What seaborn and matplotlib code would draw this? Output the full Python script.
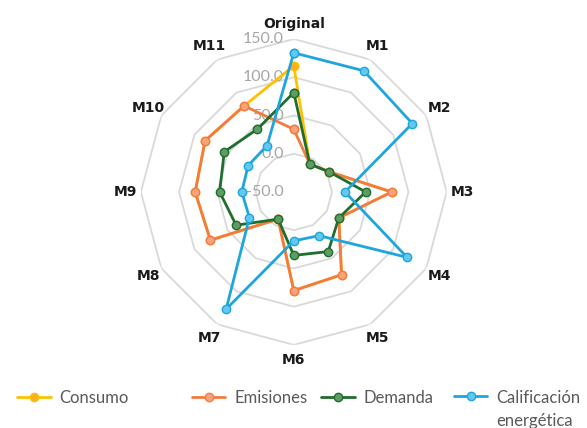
import numpy as np
import pandas as pd
import matplotlib.pyplot as plt
import seaborn as sns

# axes of the radar
categories = ['Original', 'M1', 'M2', 'M3', 'M4', 'M5', 'M6', 'M7', 'M8', 'M9', 'M10', 'M11']

# values
consumo = [115, -8, 3, 78, 18, 75, 79, -9, 76, 79, 84, 80]
emisiones = [32, -8, 3, 78, 18, 75, 79, -9, 76, 79, 84, 80]
demanda = [80, -8, 3, 44, 18, 40, 33, -9, 37, 47, 55, 45]
calificacion = [132, 133, 129, 17, 121, 16, 14, 127, 17, 18, 19, 20]

series_names = ['Consumo', 'Emisiones', 'Demanda', 'Calificación\nenergética']
series_values = [consumo, emisiones, demanda, calificacion]
line_colors = ['#FFC000', '#F47A3E', '#1E6E2E', '#1CA6DD']
face_colors = ['#FFB020', '#F9A37C', '#5E9C63', '#62C8F0']

rings = [-50, 0, 50, 100, 150]
ring_labels = ['-50.0', '0.0', '50.0', '100.0', '150.0']

sns.set_theme(style='white')
plt.rcParams['font.family'] = ['DejaVu Sans']

fig = plt.figure(figsize=(5.87, 4.28), dpi=100)
ax = fig.add_axes([0.240, 0.194, 0.521, 0.715], projection='polar')
ax.set_theta_zero_location('N')
ax.set_theta_direction(-1)

n = len(categories)
theta = np.linspace(0, 2 * np.pi, n, endpoint=False)
theta_closed = np.append(theta, 2 * np.pi)

# polygon gridlines
for r in rings[1:]:
    ax.plot(theta_closed, [r] * (n + 1), color='#D9D9D9', lw=1.3, zorder=0)

for name, vals, lc, fc in zip(series_names, series_values, line_colors, face_colors):
    df = pd.DataFrame({'theta': theta_closed, 'value': vals + [vals[0]]})
    sns.lineplot(data=df, x='theta', y='value', ax=ax, sort=False, estimator=None,
                 color=lc, lw=2.0, marker='o', markersize=6,
                 markerfacecolor=fc, markeredgecolor=lc, markeredgewidth=1.0,
                 label=name, legend=False, zorder=3)

ax.set_ylim(-50, 150)
ax.set_xticks([])
ax.set_yticks([])
ax.grid(False)
ax.spines['polar'].set_visible(False)
ax.set_xlabel('')
ax.set_ylabel('')

for r, lab in zip(rings, ring_labels):
    ax.annotate(lab, xy=(0, r), xytext=(-7, 0), textcoords='offset points',
                ha='right', va='center', fontsize=11.5, color='#A6A6A6',
                family='Lato', zorder=2)

for t, cat in zip(theta, categories):
    ax.text(t, 170, cat, ha='center', va='center', fontsize=10,
            fontweight='bold', color='#1A1A1A')

handles = ax.get_lines()[-4:]
legend_x = [0.018, 0.316, 0.536, 0.762]
for h, name, x in zip(handles, series_names, legend_x):
    leg = fig.legend([h], [name], loc='upper left', bbox_to_anchor=(x, 0.104),
                     frameon=False, handlelength=2.0,
                     handletextpad=0.55, borderaxespad=0.0,
                     labelcolor='#595959', prop={'family': 'Lato', 'size': 12})
    if '\n' in name:
        leg.texts[0].set_linespacing(1.5)
        # keep the handle level with the first text line
        lh = leg.legend_handles[0]
        lh.set_ydata(np.asarray(lh.get_ydata()) + 10)

fig.savefig('out.png', dpi=100)
